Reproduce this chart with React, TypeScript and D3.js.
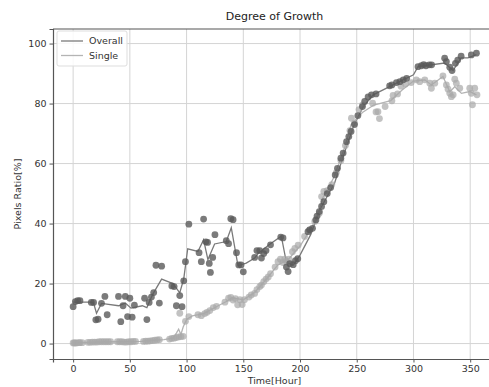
import * as d3 from "d3";
import React, { useEffect, useRef } from "react";

// Overall series: scatter points [hour, ratio]
const overallPoints: [number, number][] = [
  [0, 12.3], [2, 14], [4, 14.3], [6, 14.3], [16, 13.7], [18, 13.7], [20, 7.9], [22, 8.1],
  [25, 13.4], [28, 15.7], [30, 9.6], [40, 15.7], [42, 7.3], [44, 12.6], [46, 15.7], [48, 9],
  [50, 15.1], [52, 8.8], [54, 12.8], [63, 15.1], [65, 8], [67, 13.7], [69, 15.5], [71, 17],
  [73, 26.1], [76, 13.5], [78, 25.8], [87, 19.2], [89, 19], [91, 12.6], [94, 16], [96, 12.3],
  [97.5, 20.9], [99, 27.3], [102, 39.8], [111, 30.3], [113, 27.3], [115, 41.5], [117, 33.9],
  [118.5, 33.7], [120, 26.7], [121, 23.7], [123, 28.7], [125, 36.3], [135, 34.3], [137, 33.3],
  [139, 41.6], [141, 41.3], [144, 30.3], [146, 26.2], [148, 26.2], [150, 23.9], [160, 28.7],
  [162, 31], [164.5, 31], [166, 28.5], [168, 30], [170, 31], [174, 32.9], [183, 35.5],
  [185, 35.2], [188, 25.5], [189.5, 24], [191, 26.6], [194, 26.3], [196, 27.6], [198, 28.3],
  [207, 37.3], [208.5, 37.9], [211, 38.4], [214, 41.2], [215, 42.5], [217, 44], [219, 45.7],
  [221, 47.3], [224, 50], [227, 52], [231, 56.2], [233, 58.4], [236, 61.8], [238, 63.5],
  [241, 67.3], [243, 69], [245, 70.7], [248, 73], [251, 76], [255, 79], [257, 80.7],
  [260, 82.2], [263, 82.9], [267, 83.2], [279, 85.9], [281, 86.2], [285, 87], [288, 87.3],
  [291, 87.9], [294, 88.4], [304, 92.3], [307, 92.6], [309, 93], [311, 92.6], [314, 92.9],
  [316, 92.9], [327.5, 95.1], [329, 94], [332, 92.1], [334, 91], [337, 93.4], [339, 94.5],
  [342, 95.8], [351, 96.2], [355.5, 96.8],
];

// Single series: scatter points [hour, ratio]
const singlePoints: [number, number][] = [
  [0, 0.2], [1, 0.2], [2, 0.2], [3, 0.2], [5, 0.3], [6, 0.3], [8, 0.3], [13, 0.4], [15, 0.4],
  [17, 0.5], [19, 0.5], [21, 0.5], [23, 0.6], [25, 0.6], [27, 0.6], [29, 0.6], [31, 0.6],
  [33, 0.6], [39, 0.6], [41, 0.6], [43, 0.6], [45, 0.5], [47, 0.5], [49, 0.6], [51, 0.6],
  [53, 0.7], [55, 0.7], [62, 0.7], [64, 0.8], [66, 0.8], [68, 0.9], [70, 1], [72, 1.1],
  [74, 1.2], [76, 1.3], [85, 1.5], [87, 1.7], [89, 1.8], [91, 2], [93, 2.2], [94, 10.1],
  [95, 2.3], [97, 2.4], [99, 7.4], [102, 9], [110, 9.6], [113, 9.3], [116, 10], [118, 10.4],
  [120.5, 11], [123.5, 12], [126.4, 12.4], [133.8, 13.8], [137, 15.1], [139, 15.4], [141, 14.5],
  [143, 15], [145, 12.9], [147, 14.6], [149, 13], [151, 14.6], [155, 15.5], [157, 16.2],
  [160, 16.7], [162, 18], [164.5, 19], [166, 19.5], [168, 20.6], [170, 21.5], [172, 22.2],
  [174, 23.3], [178, 25.5], [180.6, 27.3], [182.7, 28.1], [185, 27], [186.5, 28.1], [188, 27.5],
  [190.4, 28.1], [193.3, 30.6], [195.4, 31.7], [198.3, 32.8], [204, 35.7], [208.5, 37.9],
  [213, 40.7], [217, 43.4], [219, 49], [221, 50.7], [224, 51], [228, 53], [232, 57],
  [236, 61], [240, 66], [244, 71], [245.3, 75.1], [248, 73.5], [252, 78], [255, 79.5],
  [264, 80.1], [267, 77.2], [268.7, 77.3], [270, 75], [275, 79], [281, 80.9], [282, 82.7],
  [286, 83.2], [289, 85.8], [293, 86.5], [298, 87], [302.5, 87.9], [305.5, 87.3], [310, 87.9],
  [314.4, 86.8], [315.8, 85.1], [318.8, 86.8], [326, 89.2], [329, 86.2], [330.5, 84.8],
  [332, 83.4], [333.4, 82.3], [335, 82.9], [336.4, 88.1], [337.8, 86.8], [340.8, 85.1],
  [349.6, 85.1], [351, 83.4], [352, 79.6], [354, 85.1], [356, 82.9],
];

// Trend lines
const overallLine: [number, number][] = [
  [0, 13.8], [16, 13.8], [18, 13.5], [20.6, 10.1], [25, 13.4], [40, 12.6], [46, 13.5],
  [51, 11.8], [61, 12.6], [65, 12], [70, 16.3], [78, 21.5], [88, 20], [94, 16.9], [97.5, 21.6],
  [101, 31.6], [110, 30.7], [115, 34.6], [118.8, 28], [124.7, 33.2], [135, 34], [139.4, 38.6],
  [145.3, 26], [152.6, 26.8], [160, 28.5], [163, 30], [173, 33], [183.5, 35.8], [188, 27],
  [194, 26.1], [200, 29.5], [209.4, 36.3], [217.4, 44.6], [230.5, 53.5], [238, 62.3],
  [247, 72.3], [255.7, 79], [264.5, 82.9], [282, 86.2], [300, 89.6], [304, 92.3],
  [327.5, 93.5], [334.9, 91], [342, 95.2], [348, 95.2], [355.5, 96.3],
];

const singleLine: [number, number][] = [
  [0, 0.3], [20, 0.5], [40, 0.6], [60, 0.7], [80, 1.3], [88, 1.8], [91, 3.5], [93, 4.8],
  [95, 3], [97, 5.5], [100, 8], [105, 9.2], [115, 10], [125, 12], [135, 14], [140, 15.2],
  [150, 14.6], [160, 17], [170, 21.3], [180, 26], [190, 28.2], [200, 32.5], [210, 38.5],
  [216, 43], [220, 48.5], [230, 55.5], [240, 66], [245, 73], [255, 77], [265, 79.5],
  [280, 81], [290, 84.5], [300, 87.5], [310, 87.9], [315.8, 86.2], [326, 89], [332, 83.9],
  [336.4, 85.6], [342.3, 83.4], [349.6, 84], [355.5, 82.9],
];

const xTicks = [0, 50, 100, 150, 200, 250, 300, 350];
const yTicks = [0, 20, 40, 60, 80, 100];
const seriesNames = ["Overall", "Single"];

const width = 489;
const height = 387;

const App: React.FC = () => {
  const svgRef = useRef<SVGSVGElement>(null);

  useEffect(() => {
    if (!svgRef.current) return;
    const margin = { top: 29, right: -7, bottom: 28, left: 53 };
    const plotRight = width - margin.right;
    const plotBottom = height - margin.bottom;

    const svg = d3.select(svgRef.current);
    svg.selectAll("*").remove();
    svg.attr("width", width).attr("height", height).style("background", "#fff");

    const font = "DejaVu Sans, sans-serif";

    const x = d3.scaleLinear().domain([-17.75, 372.75]).range([margin.left, plotRight]);
    const y = d3.scaleLinear().domain([-5.15, 104.85]).range([plotBottom, margin.top]);

    svg
      .append("defs")
      .append("clipPath")
      .attr("id", "plot-clip")
      .append("rect")
      .attr("x", margin.left)
      .attr("y", margin.top)
      .attr("width", plotRight - margin.left)
      .attr("height", plotBottom - margin.top);

    // Grid
    const grid = svg.append("g").attr("stroke", "#d4d4d4").attr("stroke-width", 1);
    grid
      .selectAll(".gx")
      .data(xTicks)
      .join("line")
      .attr("x1", (d) => x(d))
      .attr("x2", (d) => x(d))
      .attr("y1", margin.top)
      .attr("y2", plotBottom);
    grid
      .selectAll(".gy")
      .data(yTicks)
      .join("line")
      .attr("x1", margin.left)
      .attr("x2", plotRight)
      .attr("y1", (d) => y(d))
      .attr("y2", (d) => y(d));

    const plot = svg.append("g").attr("clip-path", "url(#plot-clip)");

    const line = d3
      .line<[number, number]>()
      .x((d) => x(d[0]))
      .y((d) => y(d[1]));

    // Lines
    plot
      .append("path")
      .attr("d", line(overallLine) || "")
      .attr("fill", "none")
      .attr("stroke", "#7a7a7a")
      .attr("stroke-width", 1.3);
    plot
      .append("path")
      .attr("d", line(singleLine) || "")
      .attr("fill", "none")
      .attr("stroke", "#b4b4b4")
      .attr("stroke-width", 1.3);

    // Points
    plot
      .selectAll(".p-single")
      .data(singlePoints)
      .join("circle")
      .attr("class", "p-single")
      .attr("cx", (d) => x(d[0]))
      .attr("cy", (d) => y(d[1]))
      .attr("r", 3.4)
      .attr("fill", "#a8a8a8")
      .attr("opacity", 0.7);
    plot
      .selectAll(".p-overall")
      .data(overallPoints)
      .join("circle")
      .attr("class", "p-overall")
      .attr("cx", (d) => x(d[0]))
      .attr("cy", (d) => y(d[1]))
      .attr("r", 3.4)
      .attr("fill", "#5a5a5a")
      .attr("opacity", 0.8);

    // Axes
    const xAxis = svg
      .append("g")
      .attr("transform", `translate(0,${plotBottom})`)
      .call(d3.axisBottom(x).tickValues(xTicks).tickSize(3.5).tickPadding(3));
    const yAxis = svg
      .append("g")
      .attr("transform", `translate(${margin.left},0)`)
      .call(d3.axisLeft(y).tickValues(yTicks).tickSize(3.5).tickPadding(3));
    [xAxis, yAxis].forEach((a) => {
      a.select(".domain").attr("stroke", "#555").attr("stroke-width", 1.2);
      a.selectAll(".tick line").attr("stroke", "#555");
      a.selectAll("text").attr("fill", "#333").style("font-family", font).style("font-size", "9.5px");
    });

    // Top spine
    svg
      .append("line")
      .attr("x1", margin.left)
      .attr("x2", plotRight)
      .attr("y1", margin.top)
      .attr("y2", margin.top)
      .attr("stroke", "#555")
      .attr("stroke-width", 1.2);

    // Title and labels
    svg
      .append("text")
      .attr("x", (margin.left + plotRight) / 2)
      .attr("y", 20)
      .attr("text-anchor", "middle")
      .attr("fill", "#222")
      .style("font-family", font)
      .style("font-size", "11px")
      .text("Degree of Growth");
    svg
      .append("text")
      .attr("x", (margin.left + plotRight) / 2)
      .attr("y", 384)
      .attr("text-anchor", "middle")
      .attr("fill", "#333")
      .style("font-family", font)
      .style("font-size", "9.5px")
      .text("Time[Hour]");
    svg
      .append("text")
      .attr("transform", `translate(21,${(margin.top + plotBottom) / 2}) rotate(-90)`)
      .attr("text-anchor", "middle")
      .attr("fill", "#333")
      .style("font-family", font)
      .style("font-size", "9.5px")
      .text("Pixels Ratio[%]");

    // Legend
    const legend = svg.append("g").attr("transform", `translate(${margin.left + 4},${margin.top + 2})`);
    legend
      .append("rect")
      .attr("width", 70)
      .attr("height", 35)
      .attr("rx", 2)
      .attr("fill", "#fff")
      .attr("fill-opacity", 0.85)
      .attr("stroke", "#ddd");
    const items = legend
      .selectAll(".item")
      .data(seriesNames)
      .join("g")
      .attr("transform", (d, i) => `translate(0,${10 + i * 14.5})`);
    items
      .append("line")
      .attr("x1", 4)
      .attr("x2", 26)
      .attr("stroke", (d, i) => (i === 0 ? "#7a7a7a" : "#b4b4b4"))
      .attr("stroke-width", 1.3);
    items
      .append("text")
      .attr("x", 32)
      .attr("dy", "0.35em")
      .attr("fill", "#333")
      .style("font-family", font)
      .style("font-size", "9.5px")
      .text((d) => d);
  }, []);

  return (
    <div style={{ position: "fixed", left: 0, top: 0 }}>
      <svg ref={svgRef} style={{ display: "block" }} />
    </div>
  );
};

export default App;
